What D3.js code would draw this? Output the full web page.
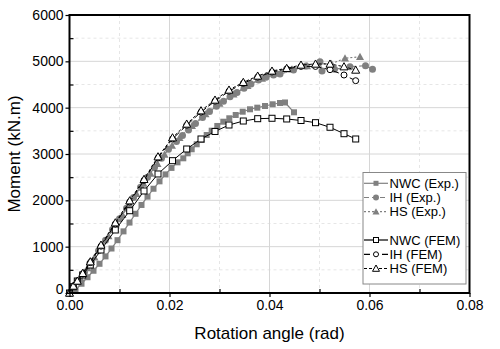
<!DOCTYPE html>
<html><head><meta charset="utf-8">
<script src="https://cdn.jsdelivr.net/npm/d3@7"></script>
<style>body{margin:0;background:#fff}svg{display:block}text{font-family:"Liberation Sans",Arial,sans-serif}</style>
</head><body>
<svg id="c" width="500" height="349"></svg>
<script>
// ---- data ----
const xTicks = [0, 0.02, 0.04, 0.06, 0.08];
const yTicks = [0, 1000, 2000, 3000, 4000, 5000, 6000];
const seriesNames = ["NWC (Exp.)", "IH (Exp.)", "HS (Exp.)", "NWC (FEM)", "IH (FEM)", "HS (FEM)"];

const nwcExpX = [0,0.0012,0.0024,0.0036,0.0048,0.006,0.0072,0.0084,0.0096,0.0108,0.012,0.0132,0.0144,0.0156,0.0168,0.018,0.0192,0.0204,0.0216,0.02276,0.02364,0.02444,0.02544,0.02644,0.02744,0.02844,0.02956,0.03076,0.03196,0.03324,0.03464,0.0361,0.03756,0.0391,0.04064,0.0421,0.0431,0.0449];
const nwcExpM = [0,70,200,340,480,630,790,960,1140,1330,1520,1710,1900,2080,2250,2410,2560,2700,2820,2907,3015,3102,3210,3302,3410,3503,3605,3697,3771,3842,3913,3965,4000,4036,4073,4101,4112,3900];

const ihExpX = [0,0.0008,0.0018,0.003,0.0044,0.0058,0.0072,0.0086,0.01,0.0114,0.0128,0.0142,0.0156,0.017,0.0184,0.0198,0.0214,0.0226,0.0238,0.0252,0.0266,0.028,0.0294,0.0308,0.0321,0.0335,0.0349,0.0363,0.0378,0.0393,0.0408,0.0421,0.0448,0.0473,0.0501,0.0505,0.053,0.0561,0.0592,0.0606];
const ihExpM = [0,110,260,450,680,910,1140,1370,1600,1830,2060,2280,2500,2710,2910,3100,3270,3400,3520,3660,3790,3915,4030,4140,4237,4330,4418,4510,4597,4655,4705,4727,4813,4900,4992,4790,4828,4885,4906,4828];

const hsExpX = [0,0.001,0.0022,0.0036,0.005,0.0064,0.0078,0.0092,0.0106,0.012,0.0134,0.0148,0.0162,0.0176,0.019,0.0205,0.022,0.0245,0.0272,0.03,0.0328,0.0356,0.0385,0.0415,0.0445,0.0475,0.0497,0.0524,0.0551,0.0581];
const hsExpM = [0,140,320,540,770,1000,1230,1460,1690,1920,2140,2360,2580,2790,2990,3180,3350,3610,3860,4090,4290,4470,4630,4740,4830,4900,4950,4950,5066,5100];

const femX = [0,0.00076,0.00156,0.00264,0.00416,0.0063,0.00916,0.01204,0.0149,0.0177,0.0206,0.02344,0.0263,0.0291,0.0319,0.03476,0.03764,0.0405,0.04344,0.0463,0.0492,0.0521,0.0549,0.05724];
const nwcFemM = [0,136,259,389,604,928,1360,1776,2202,2569,2856,3108,3324,3486,3626,3712,3762,3771,3756,3723,3676,3577,3438,3324];
const ihFemM  = [0,140,250,410,655,1010,1490,1965,2430,2915,3325,3620,3905,4140,4355,4525,4660,4770,4835,4890,4890,4820,4705,4582];
const hsFemM  = [0,151,259,425,676,1036,1517,1992,2454,2942,3352,3648,3935,4166,4382,4548,4684,4792,4850,4921,4943,4943,4885,4813];

// ---- layout ----
const L = 69.5, R = 469.5, T = 15, B = 293;
const svg = d3.select("#c");
const x = d3.scaleLinear().domain([0, 0.08]).range([L, R]);
const y = d3.scaleLinear().domain([0, 6000]).range([B, T]);
const grey = "#808080";

// grid
const g = svg.append("g");
d3.range(0.01, 0.08, 0.02).forEach(v => g.append("line").attr("x1", x(v)).attr("x2", x(v)).attr("y1", T).attr("y2", B).attr("stroke", "#e6e6e6").attr("stroke-dasharray", "3,3"));
d3.range(500, 6000, 1000).forEach(v => g.append("line").attr("y1", y(v)).attr("y2", y(v)).attr("x1", L).attr("x2", R).attr("stroke", "#e6e6e6").attr("stroke-dasharray", "3,3"));
xTicks.slice(1, -1).forEach(v => g.append("line").attr("x1", x(v)).attr("x2", x(v)).attr("y1", T).attr("y2", B).attr("stroke", "#d6d6d6"));
yTicks.slice(1, -1).forEach(v => g.append("line").attr("y1", y(v)).attr("y2", y(v)).attr("x1", L).attr("x2", R).attr("stroke", "#d6d6d6"));

// series definitions
const series = [
  {name: seriesNames[0], xs: nwcExpX, ms: nwcExpM, color: grey, dash: null, sym: "square", fill: grey, size: 6},
  {name: seriesNames[1], xs: ihExpX, ms: ihExpM, color: grey, dash: "5,3", sym: "circle", fill: grey, size: 7},
  {name: seriesNames[2], xs: hsExpX, ms: hsExpM, color: grey, dash: "2,2", sym: "triangle", fill: grey, size: 8},
  {name: seriesNames[3], xs: femX, ms: nwcFemM, color: "#000", dash: null, sym: "square", fill: "#fff", size: 6},
  {name: seriesNames[4], xs: femX, ms: ihFemM, color: "#000", dash: "6,3", sym: "circle", fill: "#fff", size: 6},
  {name: seriesNames[5], xs: femX, ms: hsFemM, color: "#000", dash: "3,2", sym: "triangle", fill: "#fff", size: 8}
];

function marker(sel, s, cx, cy) {
  const h = s.size / 2;
  if (s.sym === "square") {
    sel.append("rect").attr("x", cx - h).attr("y", cy - h).attr("width", s.size).attr("height", s.size)
      .attr("fill", s.fill).attr("stroke", s.fill === "#fff" ? "#000" : "none").attr("stroke-width", 1);
  } else if (s.sym === "circle") {
    sel.append("circle").attr("cx", cx).attr("cy", cy).attr("r", h)
      .attr("fill", s.fill).attr("stroke", s.fill === "#fff" ? "#000" : "none").attr("stroke-width", 1);
  } else {
    const p = [[cx, cy - h], [cx + h, cy + h * 0.8], [cx - h, cy + h * 0.8]];
    sel.append("path").attr("d", "M" + p.join("L") + "Z")
      .attr("fill", s.fill).attr("stroke", s.fill === "#fff" ? "#000" : "none").attr("stroke-width", 1);
  }
}

const line = d3.line().x(d => x(d[0])).y(d => y(d[1]));
series.forEach(s => {
  const pts = s.xs.map((v, i) => [v, s.ms[i]]);
  const gg = svg.append("g");
  gg.append("path").attr("d", line(pts)).attr("fill", "none").attr("stroke", s.color)
    .attr("stroke-width", s.fill === "#fff" ? 1 : 1.2).attr("stroke-dasharray", s.dash);
  pts.forEach(p => marker(gg, s, x(p[0]), y(p[1])));
});

// axes
const xAxis = svg.append("g").attr("transform", `translate(0,${B})`)
  .call(d3.axisBottom(x).tickValues(xTicks).tickFormat(d3.format(".2f")).tickSize(4).tickPadding(3));
const xMinor = svg.append("g").attr("transform", `translate(0,${B})`)
  .call(d3.axisBottom(x).tickValues([0.01,0.03,0.05,0.07]).tickFormat("").tickSize(-4));
const yAxis = svg.append("g").attr("transform", `translate(${L},0)`)
  .call(d3.axisLeft(y).tickValues(yTicks).tickFormat(d3.format("d")).tickSize(4).tickPadding(2));
const yMinor = svg.append("g").attr("transform", `translate(${L},0)`)
  .call(d3.axisLeft(y).tickValues([500,1500,2500,3500,4500,5500]).tickFormat("").tickSize(-4));
[xAxis, xMinor, yAxis, yMinor].forEach(a => {
  a.select(".domain").remove();
  a.selectAll("line").attr("stroke", "#000").attr("stroke-width", 1.2);
  a.selectAll("text").attr("font-size", 14).attr("fill", "#000").style("font-family", '"Liberation Sans",Arial,sans-serif');
});
yAxis.selectAll("text").filter(d => d === 0).attr("dy", "0.05em");
// frame
svg.append("rect").attr("x", L).attr("y", T).attr("width", R - L).attr("height", B - T)
  .attr("fill", "none").attr("stroke", "#000").attr("stroke-width", 2);

// axis titles
svg.append("text").attr("x", (L + R) / 2).attr("y", 339).attr("text-anchor", "middle")
  .attr("font-size", 17).text("Rotation angle (rad)");
svg.append("text").attr("transform", `translate(20,${(T + B) / 2}) rotate(-90)`).attr("text-anchor", "middle")
  .attr("font-size", 17).text("Moment (kN.m)");

// legend
const lg = svg.append("g");
lg.append("rect").attr("x", 363).attr("y", 172.5).attr("width", 103).attr("height", 111.5)
  .attr("fill", "#fff").attr("stroke", "#888").attr("stroke-width", 1);
const rows = [183.3, 197.5, 211.7, 240, 254.3, 268.5];
series.forEach((s, i) => {
  const cy = rows[i];
  lg.append("line").attr("x1", 364).attr("x2", 388).attr("y1", cy).attr("y2", cy)
    .attr("stroke", s.color).attr("stroke-width", 1.2).attr("stroke-dasharray", s.dash);
  marker(lg, Object.assign({}, s, {size: s.size - 1}), 376, cy);
  lg.append("text").attr("x", 389.5).attr("y", cy + 4.5).attr("font-size", 13).text(s.name);
});
</script>
</body></html>
